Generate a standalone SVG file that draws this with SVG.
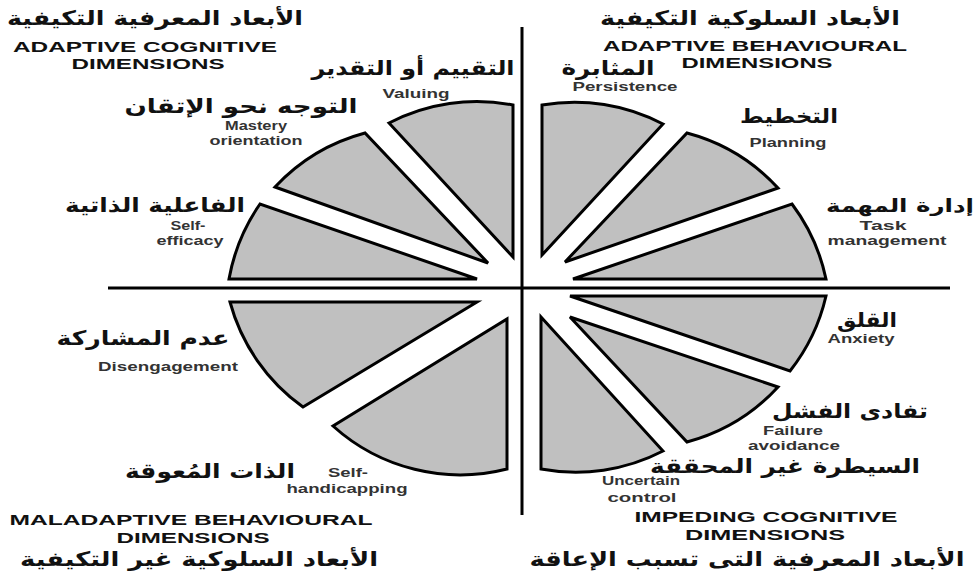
<svg xmlns="http://www.w3.org/2000/svg" width="977" height="577" viewBox="0 0 977 577">
<style>
.w{fill:#c0c0c0;stroke:#000;stroke-width:3;stroke-linejoin:miter}
.ax{stroke:#000;stroke-width:3;fill:none}
.ar{font-family:"DejaVu Sans","Noto Sans",sans-serif;font-weight:bold;font-size:20px;fill:#111;text-anchor:middle}
.hd{font-family:"Liberation Sans",Arial,sans-serif;font-weight:bold;font-size:15px;fill:#111;text-anchor:middle}
.sm{font-family:"Liberation Sans",Arial,sans-serif;font-weight:bold;font-size:12px;fill:#333;text-anchor:middle}
</style>
<rect width="977" height="577" fill="#fff"/>
<g id="connectors">
<line class="ax" x1="108" y1="288" x2="950" y2="288"/>
<line class="ax" x1="522" y1="27" x2="522" y2="515"/>
</g>
<g id="valuing">
<path class="w" d="M513,257 L389,123 A190,190 0 0 1 513,105 Z"/>
<text class="ar" x="413" y="75" textLength="203" lengthAdjust="spacingAndGlyphs">التقييم أو التقدير</text>
<text class="sm" x="416" y="98" textLength="67" lengthAdjust="spacingAndGlyphs">Valuing</text>
</g>
<g id="mastery">
<path class="w" d="M488,263 L275,187 A190,190 0 0 1 365,133 Z"/>
<text class="ar" x="241" y="113" textLength="233" lengthAdjust="spacingAndGlyphs">التوجه نحو الإتقان</text>
<text class="sm" x="256" y="130" textLength="62" lengthAdjust="spacingAndGlyphs">Mastery</text>
<text class="sm" x="256" y="145" textLength="93" lengthAdjust="spacingAndGlyphs">orientation</text>
</g>
<g id="self-efficacy">
<path class="w" d="M477,279 L229,279 A190,190 0 0 1 260,204 Z"/>
<text class="ar" x="155" y="212" textLength="180" lengthAdjust="spacingAndGlyphs">الفاعلية الذاتية</text>
<text class="sm" x="188" y="230" textLength="35" lengthAdjust="spacingAndGlyphs">Self-</text>
<text class="sm" x="190" y="245" textLength="67" lengthAdjust="spacingAndGlyphs">efficacy</text>
</g>
<g id="persistence">
<path class="w" d="M542,255 L542,105 A190,190 0 0 1 663,124 Z"/>
<text class="ar" x="608" y="75" textLength="93" lengthAdjust="spacingAndGlyphs">المثابرة</text>
<text class="sm" x="625" y="91" textLength="105" lengthAdjust="spacingAndGlyphs">Persistence</text>
</g>
<g id="planning">
<path class="w" d="M565,262 L687,133 A190,190 0 0 1 778,188 Z"/>
<text class="ar" x="789" y="123" textLength="98" lengthAdjust="spacingAndGlyphs">التخطيط</text>
<text class="sm" x="788" y="147" textLength="77" lengthAdjust="spacingAndGlyphs">Planning</text>
</g>
<g id="task-management">
<path class="w" d="M573,279 L792,204 A190,190 0 0 1 826,279 Z"/>
<text class="ar" x="900" y="212" style="font-size:18px" textLength="148" lengthAdjust="spacingAndGlyphs">إدارة المهمة</text>
<text class="sm" x="883" y="230" textLength="47" lengthAdjust="spacingAndGlyphs">Task</text>
<text class="sm" x="887" y="245" textLength="119" lengthAdjust="spacingAndGlyphs">management</text>
</g>
<g id="anxiety">
<path class="w" d="M570,296 L826,296 A190,190 0 0 1 790,371 Z"/>
<text class="ar" x="867" y="327" textLength="60" lengthAdjust="spacingAndGlyphs">القلق</text>
<text class="sm" x="861" y="343" textLength="67" lengthAdjust="spacingAndGlyphs">Anxiety</text>
</g>
<g id="failure-avoidance">
<path class="w" d="M570,317 L778,387 A190,190 0 0 1 687,442 Z"/>
<text class="ar" x="850" y="418" textLength="156" lengthAdjust="spacingAndGlyphs">تفادى الفشل</text>
<text class="sm" x="793" y="435" textLength="60" lengthAdjust="spacingAndGlyphs">Failure</text>
<text class="sm" x="794" y="450" textLength="92" lengthAdjust="spacingAndGlyphs">avoidance</text>
</g>
<g id="uncertain-control">
<path class="w" d="M541,317 L663,451 A190,190 0 0 1 541,469 Z"/>
<text class="ar" x="785" y="473" textLength="270" lengthAdjust="spacingAndGlyphs">السيطرة غير المحققة</text>
<text class="sm" x="641" y="485" textLength="78" lengthAdjust="spacingAndGlyphs">Uncertain</text>
<text class="sm" x="642" y="502" textLength="69" lengthAdjust="spacingAndGlyphs">control</text>
</g>
<g id="self-handicapping">
<path class="w" d="M507,319 L507,469 A190,190 0 0 1 333,426 Z"/>
<text class="ar" x="210" y="478" textLength="170" lengthAdjust="spacingAndGlyphs">الذات المُعوقة</text>
<text class="sm" x="348" y="477" textLength="40" lengthAdjust="spacingAndGlyphs">Self-</text>
<text class="sm" x="347" y="493" textLength="121" lengthAdjust="spacingAndGlyphs">handicapping</text>
</g>
<g id="disengagement">
<path class="w" d="M477,302 L303,407 A190,190 0 0 1 230,302 Z"/>
<text class="ar" x="143" y="345" textLength="173" lengthAdjust="spacingAndGlyphs">عدم المشاركة</text>
<text class="sm" x="168" y="371" textLength="140" lengthAdjust="spacingAndGlyphs">Disengagement</text>
</g>
<g id="adaptive-cognitive">
<text class="ar" x="155" y="25" textLength="296" lengthAdjust="spacingAndGlyphs">الأبعاد المعرفية التكيفية</text>
<text class="hd" x="145" y="52" textLength="264" lengthAdjust="spacingAndGlyphs">ADAPTIVE COGNITIVE</text>
<text class="hd" x="148" y="69" textLength="153" lengthAdjust="spacingAndGlyphs">DIMENSIONS</text>
</g>
<g id="adaptive-behavioural">
<text class="ar" x="750" y="25" textLength="300" lengthAdjust="spacingAndGlyphs">الأبعاد السلوكية التكيفية</text>
<text class="hd" x="755" y="51" textLength="304" lengthAdjust="spacingAndGlyphs">ADAPTIVE BEHAVIOURAL</text>
<text class="hd" x="757" y="68" textLength="151" lengthAdjust="spacingAndGlyphs">DIMENSIONS</text>
</g>
<g id="maladaptive-behavioural">
<text class="hd" x="191" y="525" textLength="363" lengthAdjust="spacingAndGlyphs">MALADAPTIVE BEHAVIOURAL</text>
<text class="hd" x="193" y="543" textLength="153" lengthAdjust="spacingAndGlyphs">DIMENSIONS</text>
<text class="ar" x="199" y="566" textLength="358" lengthAdjust="spacingAndGlyphs">الأبعاد السلوكية غير التكيفية</text>
</g>
<g id="impeding-cognitive">
<text class="hd" x="766" y="522" textLength="263" lengthAdjust="spacingAndGlyphs">IMPEDING COGNITIVE</text>
<text class="hd" x="765" y="540" textLength="160" lengthAdjust="spacingAndGlyphs">DIMENSIONS</text>
<text class="ar" x="747" y="566" textLength="435" lengthAdjust="spacingAndGlyphs">الأبعاد المعرفية التى تسبب الإعاقة</text>
</g>
</svg>
